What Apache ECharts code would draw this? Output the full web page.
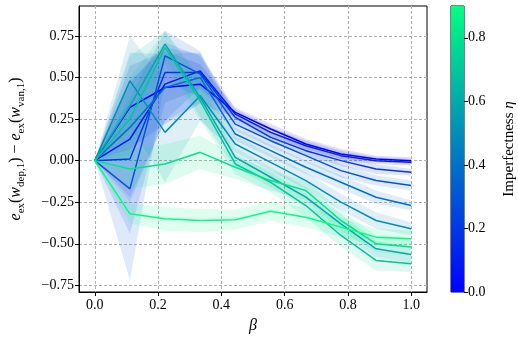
<!DOCTYPE html>
<html>
<head>
<meta charset="utf-8">
<script src="https://cdn.jsdelivr.net/npm/echarts@6/dist/echarts.min.js"></script>
<style>
  html, body { margin: 0; padding: 0; background: #fff; }
  #chart { width: 518px; height: 341px; }
</style>
</head>
<body>
<div id="chart"></div>
<script>
// beta positions (x) and imperfectness levels
var betas = [0, 0.111, 0.222, 0.333, 0.444, 0.556, 0.667, 0.778, 0.889, 1.0];
var etas = [0.0, 0.1, 0.2, 0.3, 0.4, 0.5, 0.6, 0.7, 0.8, 0.9];

// mean difference per eta
var mean00 = [0, 0.32, 0.44, 0.46, 0.29, 0.19, 0.10, 0.04, 0.01, 0.00];
var mean01 = [0, 0.13, 0.46, 0.54, 0.28, 0.17, 0.09, 0.03, 0.00, -0.01];
var mean02 = [0, 0.01, 0.53, 0.53, 0.26, 0.14, 0.06, 0.00, -0.05, -0.07];
var mean03 = [0, -0.17, 0.63, 0.52, 0.22, 0.12, 0.03, -0.06, -0.12, -0.15];
var mean04 = [0, 0.20, 0.44, 0.50, 0.16, 0.06, -0.04, -0.13, -0.22, -0.27];
var mean05 = [0, 0.48, 0.17, 0.39, 0.10, -0.01, -0.12, -0.25, -0.36, -0.41];
var mean06 = [0, 0.33, 0.70, 0.38, 0.02, -0.10, -0.22, -0.38, -0.53, -0.565];
var mean07 = [0, 0.25, 0.68, 0.36, -0.02, -0.13, -0.27, -0.45, -0.60, -0.62];
var mean08 = [0, -0.05, -0.02, 0.05, -0.04, -0.12, -0.18, -0.36, -0.50, -0.52];
var mean09 = [0, -0.32, -0.35, -0.36, -0.355, -0.305, -0.34, -0.40, -0.46, -0.47];

// half width of the shaded band per eta
var spread00 = [0, 0.25, 0.22, 0.12, 0.03, 0.03, 0.03, 0.03, 0.02, 0.02];
var spread01 = [0, 0.35, 0.22, 0.10, 0.03, 0.03, 0.03, 0.03, 0.02, 0.02];
var spread02 = [0, 0.45, 0.18, 0.10, 0.03, 0.03, 0.03, 0.03, 0.03, 0.02];
var spread03 = [0, 0.55, 0.15, 0.14, 0.04, 0.04, 0.04, 0.04, 0.03, 0.03];
var spread04 = [0, 0.45, 0.20, 0.15, 0.04, 0.04, 0.04, 0.04, 0.04, 0.03];
var spread05 = [0, 0.27, 0.30, 0.15, 0.05, 0.05, 0.05, 0.05, 0.05, 0.04];
var spread06 = [0, 0.30, 0.08, 0.12, 0.06, 0.06, 0.06, 0.06, 0.05, 0.05];
var spread07 = [0, 0.25, 0.10, 0.12, 0.06, 0.06, 0.07, 0.07, 0.06, 0.05];
var spread08 = [0, 0.12, 0.12, 0.10, 0.07, 0.06, 0.06, 0.06, 0.05, 0.05];
var spread09 = [0, 0.06, 0.07, 0.07, 0.06, 0.06, 0.06, 0.06, 0.05, 0.05];

var means = [mean00, mean01, mean02, mean03, mean04, mean05, mean06, mean07, mean08, mean09];
var spreads = [spread00, spread01, spread02, spread03, spread04, spread05, spread06, spread07, spread08, spread09];

var xTicks = [0, 0.2, 0.4, 0.6, 0.8, 1.0];
var yTicks = [-0.75, -0.5, -0.25, 0, 0.25, 0.5, 0.75];
var cbTicks = [0, 0.2, 0.4, 0.6, 0.8];
var etaMax = 0.9;

var serifFont = '"Liberation Serif", "DejaVu Serif", serif';

// matplotlib "winter" colormap
function winter(t, a) {
    var g = Math.round(255 * t);
    var b = Math.round(255 * (1 - 0.5 * t));
    if (a === undefined) return 'rgb(0,' + g + ',' + b + ')';
    return 'rgba(0,' + g + ',' + b + ',' + a + ')';
}

// band polygon drawn once from all rows [beta, lo, hi]
function bandRenderer(color) {
    return function (params, api) {
        if (params.dataIndex !== 0) return null;
        var n = params.dataInsideLength || betas.length;
        var top = [], bottom = [];
        var rows = params.context.rows;
        for (var k = 0; k < rows.length; k++) {
            top.push(api.coord([rows[k][0], rows[k][2]]));
            bottom.push(api.coord([rows[k][0], rows[k][1]]));
        }
        var pts = top.concat(bottom.reverse());
        return {
            type: 'polygon',
            shape: { points: pts },
            style: { fill: color, stroke: null },
            silent: true
        };
    };
}

var series = [];
// bands first
for (var i = 0; i < etas.length; i++) {
    var t = etas[i] / etaMax;
    var rows = [];
    for (var k = 0; k < betas.length; k++) {
        rows.push([betas[k], means[i][k] - spreads[i][k], means[i][k] + spreads[i][k]]);
    }
    (function (rows, color) {
        series.push({
            type: 'custom',
            data: rows,
            encode: { x: 0, y: [1, 2] },
            renderItem: function (params, api) {
                if (params.dataIndex !== 0) return null;
                var top = [], bottom = [];
                for (var k = 0; k < rows.length; k++) {
                    top.push(api.coord([rows[k][0], rows[k][2]]));
                    bottom.push(api.coord([rows[k][0], rows[k][1]]));
                }
                return {
                    type: 'polygon',
                    shape: { points: top.concat(bottom.reverse()) },
                    style: { fill: color },
                    silent: true
                };
            },
            clip: true, silent: true, z: 1
        });
    })(rows, winter(t, 0.13));
}
// then mean lines
for (var i = 0; i < etas.length; i++) {
    var t = etas[i] / etaMax;
    var pts = [];
    for (var k = 0; k < betas.length; k++) pts.push([betas[k], means[i][k]]);
    series.push({
        type: 'line', data: pts, symbol: 'none',
        lineStyle: { color: winter(t), width: 1.5 }, z: 3
    });
}
// colorbar
series.push({
    type: 'bar', xAxisIndex: 1, yAxisIndex: 1, data: [etaMax],
    barWidth: '100%', silent: true,
    itemStyle: {
        color: new echarts.graphic.LinearGradient(0, 0, 0, 1, [
            { offset: 0, color: winter(1) },
            { offset: 1, color: winter(0) }
        ])
    }
});

var chart = echarts.init(document.getElementById('chart'));
chart.setOption({
    animation: false,
    grid: [
        { left: 78, right: 91, top: 6, bottom: 49, show: true, borderColor: '#000', borderWidth: 1, backgroundColor: 'transparent' },
        { left: 451, width: 15, top: 6, bottom: 49, show: true, borderColor: '#000', borderWidth: 1 }
    ],
    xAxis: [{
        type: 'value', min: -0.05, max: 1.05,
        axisLine: { onZero: false, lineStyle: { color: '#000' } },
        axisTick: { customValues: xTicks, length: 4, lineStyle: { color: '#000' } },
        axisLabel: {
            customValues: xTicks, color: '#000', fontFamily: serifFont, fontSize: 14, margin: 6,
            formatter: function (v) { return v.toFixed(1); }
        },
        splitLine: { show: true, lineStyle: { color: '#b0b0b0', type: [3, 2] } },
        name: 'β', nameLocation: 'middle', nameGap: 26,
        nameTextStyle: { color: '#000', fontFamily: serifFont, fontSize: 16, fontStyle: 'italic' }
    }, {
        gridIndex: 1, type: 'category', data: ['c'], show: false
    }],
    yAxis: [{
        type: 'value', min: -0.79, max: 0.93,
        axisLine: { onZero: false, lineStyle: { color: '#000' } },
        axisTick: { customValues: yTicks, length: 4, lineStyle: { color: '#000' } },
        axisLabel: {
            customValues: yTicks, color: '#000', fontFamily: serifFont, fontSize: 14, margin: 5,
            formatter: function (v) { return (v < 0 ? '\u2212' : '') + Math.abs(v).toFixed(2); }
        },
        splitLine: { show: true, lineStyle: { color: '#b0b0b0', type: [3, 2] } },
        name: '{i|e}{s|ex}{n|(}{i|w}{s|dep,1}{n|) \u2212 }{i|e}{s|ex}{n|(}{i|w}{s|van,1}{n|)}',
        nameLocation: 'middle', nameGap: 52, nameRotate: 90,
        nameTextStyle: {
            color: '#000',
            rich: {
                i: { fontFamily: serifFont, fontStyle: 'italic', fontSize: 16, lineHeight: 22, verticalAlign: 'middle', color: '#000' },
                n: { fontFamily: serifFont, fontSize: 16, lineHeight: 22, verticalAlign: 'middle', color: '#000' },
                s: { fontFamily: serifFont, fontSize: 11, lineHeight: 22, verticalAlign: 'bottom', color: '#000' }
            }
        }
    }, {
        gridIndex: 1, type: 'value', min: 0, max: etaMax, position: 'right',
        axisLine: { show: false },
        axisTick: { show: true, customValues: cbTicks, length: 4, lineStyle: { color: '#000' } },
        axisLabel: {
            customValues: cbTicks, color: '#000', fontFamily: serifFont, fontSize: 14, margin: 4,
            formatter: function (v) { return v.toFixed(1); }
        },
        splitLine: { show: false },
        name: '{n|Imperfectness }{i|\u03b7}', nameLocation: 'middle', nameGap: 38, nameRotate: 90,
        nameTextStyle: {
            color: '#000',
            rich: {
                n: { fontFamily: serifFont, fontSize: 15, color: '#000' },
                i: { fontFamily: serifFont, fontSize: 15, fontStyle: 'italic', color: '#000' }
            }
        }
    }],
    series: series
});
</script>
</body>
</html>
